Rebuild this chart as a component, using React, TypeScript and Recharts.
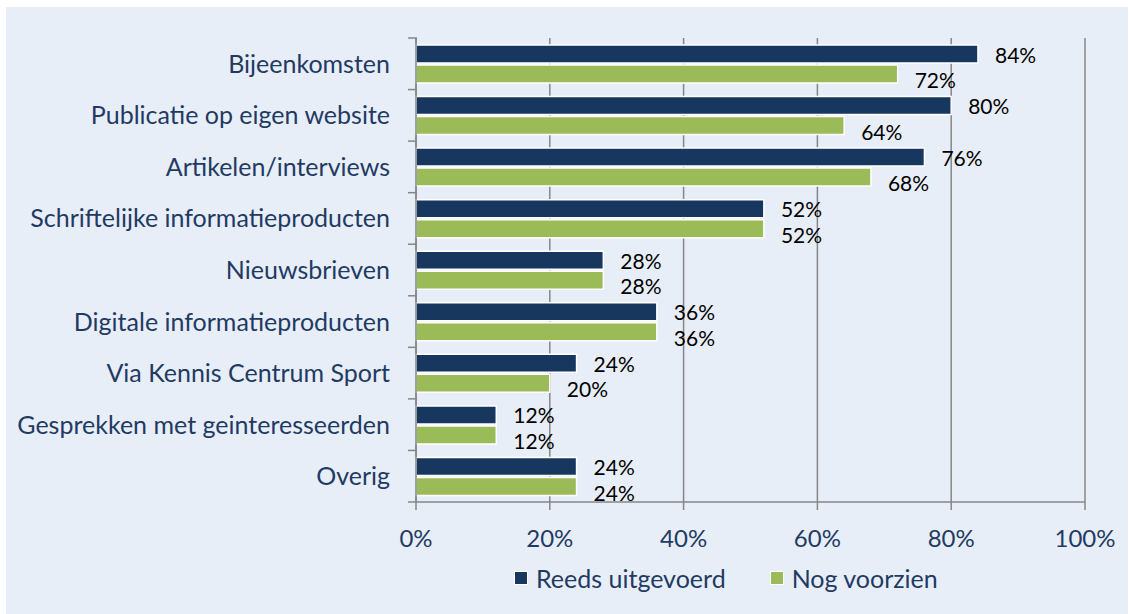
import { BarChart, Bar, XAxis, YAxis, CartesianGrid, LabelList } from 'recharts';

const categories = [
  'Bijeenkomsten',
  'Publicatie op eigen website',
  'Artikelen/interviews',
  'Schriftelijke informatieproducten',
  'Nieuwsbrieven',
  'Digitale informatieproducten',
  'Via Kennis Centrum Sport',
  'Gesprekken met geinteresseerden',
  'Overig',
];
const reedsUitgevoerd = [0.84, 0.8, 0.76, 0.52, 0.28, 0.36, 0.24, 0.12, 0.24];
const nogVoorzien = [0.72, 0.64, 0.68, 0.52, 0.28, 0.36, 0.2, 0.12, 0.24];
const xTicks = [0, 0.2, 0.4, 0.6, 0.8, 1];

const NAVY = '#17375e';
const GREEN = '#9bbb59';
const TEXT = '#1f3b63';
const GRID = '#868686';
const FONT = 'Lato, "Open Sans", sans-serif';

const data = categories.map((name, i) => ({
  name,
  reeds: reedsUitgevoerd[i],
  nog: nogVoorzien[i],
}));

const pct = (v: number) => `${Math.round(v * 100)}%`;

// category ticks sit between the bands, like the original
function CategoryTick(props: any) {
  const { x, y, payload, index, visibleTicksCount } = props;
  const half = payload?.offset || 25.75;
  const axisX = x + 9;
  return (
    <g>
      <line x1={axisX - 9} x2={axisX} y1={y - half} y2={y - half} stroke={GRID} strokeWidth={1.5} />
      {index === visibleTicksCount - 1 && (
        <line x1={axisX - 9} x2={axisX} y1={y + half} y2={y + half} stroke={GRID} strokeWidth={1.5} />
      )}
      <text x={x - 18} y={y} dy="0.36em" textAnchor="end" fill={TEXT} fontSize={25} fontFamily={FONT}>
        {payload.value}
      </text>
    </g>
  );
}

function makeLabel(dy: number) {
  return (props: any) => {
    const { x, y, width, height, value } = props;
    return (
      <text
        x={x + width + 17}
        y={y + height / 2 + dy}
        dy="0.36em"
        fill="#000"
        fontSize={21}
        fontFamily={FONT}
      >
        {pct(value)}
      </text>
    );
  };
}

function LegendItem({ color, label, gap }: { color: string; label: string; gap: number }) {
  return (
    <span style={{ display: 'inline-flex', alignItems: 'center', marginRight: gap }}>
      <span
        style={{
          width: 12,
          height: 12,
          background: color,
          border: '1px solid #fff',
          marginRight: 8,
          display: 'inline-block',
        }}
      />
      <span style={{ color: TEXT, fontSize: 25, fontFamily: FONT }}>{label}</span>
    </span>
  );
}

export default function App() {
  return (
    <div style={{ position: 'absolute', left: 0, top: 0, width: 1129, height: 614, background: '#fff' }}>
      <div style={{ position: 'absolute', left: 6, top: 7, width: 1122, height: 607, background: '#e8eef7' }} />
      <div style={{ position: 'absolute', left: 0, top: 0 }}>
        <BarChart
          width={1129}
          height={614}
          data={data}
          layout="vertical"
          margin={{ top: 38, right: 44, left: 10, bottom: 72 }}
          barSize={18}
          barGap={2}
        >
          <CartesianGrid horizontal={false} stroke={GRID} strokeWidth={1.5} />
          <XAxis
            type="number"
            domain={[0, 1]}
            ticks={xTicks}
            tickFormatter={pct}
            height={40}
            tickSize={8}
            tickMargin={20}
            stroke={GRID}
            strokeWidth={1.5}
            tick={{ fill: TEXT, fontSize: 24, fontFamily: FONT }}
            interval={0}
          />
          <YAxis
            type="category"
            dataKey="name"
            width={406}
            stroke={GRID}
            strokeWidth={1.5}
            tickLine={false}
            tick={<CategoryTick />}
            interval={0}
          />
          <Bar dataKey="reeds" fill={NAVY} stroke="#fff" strokeWidth={1.5} isAnimationActive={false}>
            <LabelList dataKey="reeds" content={makeLabel(1)} />
          </Bar>
          <Bar dataKey="nog" fill={GREEN} stroke="#fff" strokeWidth={1.5} isAnimationActive={false}>
            <LabelList dataKey="nog" content={makeLabel(6.5)} />
          </Bar>
        </BarChart>
      </div>
      <div style={{ position: 'absolute', left: 514, top: 563, whiteSpace: 'nowrap', display: 'flex' }}>
        <LegendItem color={NAVY} label="Reeds uitgevoerd" gap={44} />
        <LegendItem color={GREEN} label="Nog voorzien" gap={0} />
      </div>
    </div>
  );
}
